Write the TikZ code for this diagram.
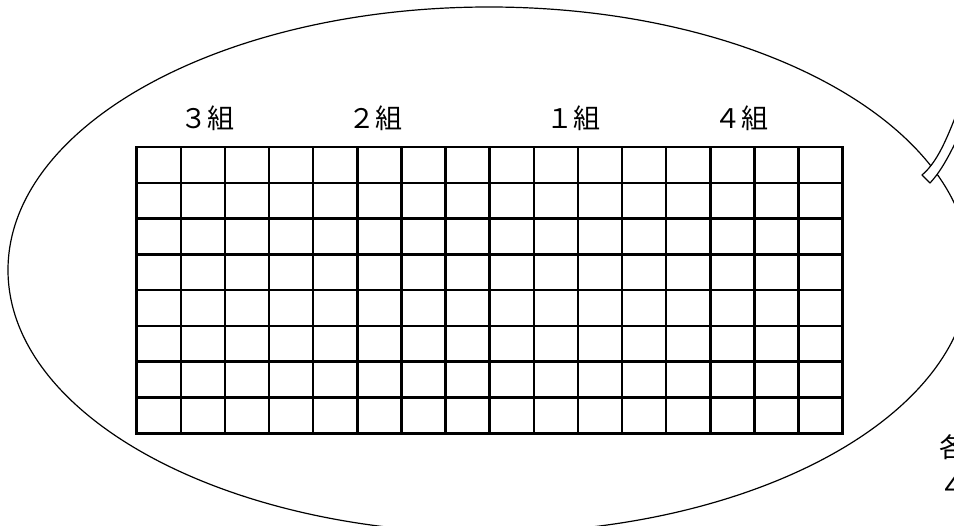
\documentclass[tikz,border=0pt]{standalone}
\usepackage{fontspec}
\newfontfamily\jpfont{Noto Sans CJK JP}
\begin{document}
\begin{tikzpicture}[x=1pt,y=-1pt,
  lbl/.style={font=\jpfont\fontsize{27}{31}\selectfont, inner sep=0pt},
  gridline/.style={line width=2.5pt},
  thin/.style={line width=1.2pt}]
\useasboundingbox (0,0) rectangle (954,526);
\clip (0,0) rectangle (954,526);
% ellipse
\draw[thin] (489,270) ellipse [x radius=481pt, y radius=263pt];
% grid 16 x 8
\foreach \i in {0,...,16} {
  \draw[gridline] ({136.7+44.125*\i},147) -- ({136.7+44.125*\i},433.3);
}
\foreach \j in {0,...,8} {
  \draw[gridline] (135.45,{147+35.79*\j}) -- (843.95,{147+35.79*\j});
}
% labels
\node[lbl] (g3) at (207.5,118) {３組};
\node[lbl] (g2) at (375.5,118) {２組};
\node[lbl] (g1) at (573,118) {１組};
\node[lbl] (g4) at (741,118) {４組};
% clipped text at right (cut off at the edge, as in the reference)
\node[lbl, anchor=west] (kaku) at (939,447) {各};
\node[lbl, anchor=west] (yon) at (939,487) {４};
% callout pointer band
\draw[thin, fill=white, line join=round]
  (962,100) .. controls (950,130) and (940,160) .. (922,175)
  -- (930,183) .. controls (942,170) and (950,155) .. (970,112) -- cycle;
\end{tikzpicture}
\end{document}
